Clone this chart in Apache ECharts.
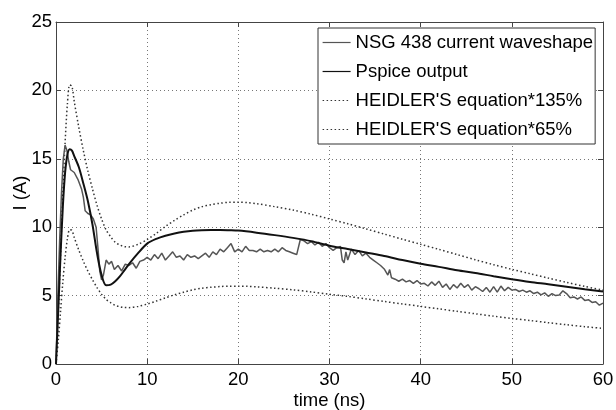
<!DOCTYPE html>
<html>
<head>
<meta charset="utf-8">
<script src="https://cdn.jsdelivr.net/npm/echarts@6/dist/echarts.min.js"></script>
<style>html,body{margin:0;padding:0;background:#fff}#c{width:616px;height:410px}</style>
</head>
<body>
<div id="c"></div>
<script>
// ---- data ----
var seriesNames = ["NSG 438 current waveshape", "Pspice output", "HEIDLER'S equation*135%", "HEIDLER'S equation*65%"];
var xTicks = [0, 10, 20, 30, 40, 50, 60];
var yTicks = [0, 5, 10, 15, 20, 25];

var tNSG = [0,0.2,0.4,0.6,0.8,1.0,1.2,1.4,1.6,2.0,2.4,2.8,3.0,3.2,3.5,3.8,4.1,4.4,4.6,4.8,5.0,5.2,5.5,5.8,6.1,6.4,6.8,7.2,7.6,8.0,8.4,8.8,9.2,9.6,10,10.4,10.8,11.2,11.6,12,12.4,12.8,13.2,13.6,14,14.4,14.8,15.2,15.6,16,16.4,16.8,17.2,17.6,18,18.4,18.8,19.2,19.6,20,20.4,20.8,21.2,21.6,22,22.4,22.8,23.2,23.6,24,24.4,24.8,25.2,25.6,26,26.4,26.8,27.2,27.6,28,28.4,28.8,29.2,29.6,30,30.4,30.8,31.2,31.4,31.6,31.8,32,32.4,32.8,33.2,33.6,34,34.4,34.8,35.2,35.6,36,36.4,36.6,36.8,37.2,37.6,38,38.4,38.8,39.2,39.6,40,40.4,40.8,41.2,41.6,42,42.4,42.8,43.2,43.6,44,44.4,44.8,45.2,45.6,46,46.4,46.8,47.2,47.6,48,48.4,48.8,49.2,49.6,50,50.4,50.8,51.2,51.6,52,52.4,52.8,53.2,53.6,54,54.4,54.8,55.2,55.6,56,56.4,56.8,57.2,57.6,58,58.4,58.8,59.2,59.6,60];
var iNSG = [0,5,9,12.5,15,16.0,15.6,14.8,14.2,14.0,13.5,12.8,12.2,11.2,11.0,10.9,10.6,10.0,8.5,6.8,6.15,6.5,7.6,7.3,7.5,6.9,7.2,6.8,7.3,7.2,7.4,7.0,7.5,7.6,7.8,7.6,8.0,7.7,8.1,7.6,7.9,8.2,7.8,7.9,7.6,8.0,7.8,7.9,7.7,7.9,8.1,7.8,8.2,8.0,8.4,8.2,8.5,8.8,8.2,8.4,8.2,8.6,8.3,8.3,8.2,8.4,8.2,8.3,8.2,8.4,8.2,8.5,8.3,8.2,8.1,8.0,9.1,9.0,8.8,8.95,8.7,8.9,8.6,8.8,8.5,8.3,8.5,8.6,7.6,7.4,8.2,7.6,8.4,8.0,8.3,7.9,8.1,7.8,7.6,7.4,7.2,6.95,6.5,6.9,6.3,6.2,6.05,6.2,6.0,6.1,5.9,6.1,5.85,5.9,5.7,6.0,5.75,6.05,5.6,5.85,5.45,5.8,5.55,5.9,5.6,5.8,5.4,5.65,5.5,5.3,5.6,5.25,5.65,5.25,5.7,5.35,5.6,5.4,5.45,5.3,5.4,5.25,5.35,5.15,5.25,5.05,5.2,4.95,5.15,5.0,5.05,5.35,5.15,4.85,4.9,4.75,4.9,4.65,4.7,4.5,4.55,4.3,4.45];

var tPspice = [0,0.25,0.5,0.75,1,1.25,1.5,1.75,2,2.5,3,3.5,4,4.5,5,5.5,6,6.5,7,7.5,8,9,10,11,12,13,14,15,16,17,18,19,20,22,24,26,28,30,32,34,36,38,40,42,44,46,48,50,52,54,56,58,60];
var iPspice = [0,4,8,11.5,14,15.3,15.7,15.6,15.2,14.4,13.2,11.9,10.2,8.1,6.5,5.75,5.8,6.05,6.4,6.85,7.3,8.1,8.8,9.15,9.38,9.54,9.66,9.74,9.78,9.8,9.8,9.78,9.75,9.6,9.42,9.22,8.98,8.65,8.4,8.15,7.9,7.6,7.33,7.1,6.85,6.65,6.42,6.2,6.0,5.83,5.65,5.47,5.3];

var tHeidler = [0,0.25,0.5,0.75,1,1.25,1.5,1.75,2,2.5,3,3.5,4,4.5,5,5.5,6,6.5,7,7.5,8,9,10,11,12,13,14,15,16,17,18,19,20,21,22,24,26,28,30,32,34,36,38,40,42,44,46,48,50,52,54,56,58,60];
var iHeidler135 = [0,3.5,8,12.5,16.2,19,20.4,20.3,19.2,17.3,15.6,14.1,12.8,11.6,10.6,9.8,9.3,8.9,8.7,8.58,8.56,8.75,9.1,9.55,10.05,10.5,10.9,11.25,11.5,11.65,11.75,11.82,11.82,11.8,11.72,11.5,11.25,10.95,10.6,10.25,9.88,9.5,9.12,8.75,8.38,8.0,7.62,7.26,6.92,6.6,6.28,5.97,5.67,5.4];
var iHeidler65 = [0,1.7,3.85,6.0,7.8,9.15,9.82,9.77,9.25,8.33,7.51,6.79,6.16,5.59,5.1,4.72,4.48,4.29,4.19,4.13,4.12,4.21,4.38,4.6,4.84,5.06,5.25,5.42,5.54,5.61,5.66,5.69,5.69,5.68,5.64,5.54,5.42,5.27,5.1,4.94,4.76,4.57,4.39,4.21,4.03,3.85,3.67,3.5,3.33,3.18,3.02,2.87,2.73,2.6];

function pairs(t, v) { return t.map(function (x, i) { return [x, v[i]]; }); }

var FONT = "'Liberation Sans', Arial, Helvetica, sans-serif";
var AX = '#444';
var chart = echarts.init(document.getElementById('c'), null, { renderer: 'canvas' });

var gridLine = { show: true, lineStyle: { color: '#777', width: 1, type: [1, 3] } };
chart.setOption({
  animation: false,
  backgroundColor: '#fff',
  textStyle: { fontFamily: FONT },
  grid: { left: 56, right: 13, top: 22, bottom: 46, containLabel: false, outerBoundsMode: 'none', show: false },
  legend: {
    show: true,
    orient: 'vertical', left: 318, top: 28,
    backgroundColor: '#fff', borderColor: '#333', borderWidth: 1, borderRadius: 0,
    padding: [5, 2, 5, 4], itemGap: 10, itemWidth: 28, itemHeight: 14,
    itemStyle: { opacity: 0 },
    lineStyle: { width: 1.2 },
    textStyle: { fontFamily: FONT, fontSize: 18.5, color: '#000' },
    data: seriesNames
  },
  xAxis: [{
    type: 'value', min: 0, max: 60, interval: 10,
    name: 'time (ns)', nameLocation: 'middle', nameGap: 27, nameMoveOverlap: false,
    nameTextStyle: { fontFamily: FONT, fontSize: 18.5, color: '#000' },
    axisLine: { show: true, onZero: false, lineStyle: { color: AX, width: 1 } },
    axisTick: { show: true, inside: true, length: 5, lineStyle: { color: AX } },
    axisLabel: { fontFamily: FONT, fontSize: 18.5, color: '#000', margin: 6,
      formatter: function (v) { return xTicks.indexOf(v) >= 0 ? String(v) : ''; } },
    splitLine: gridLine
  }, {
    type: 'value', min: 0, max: 60, interval: 10, position: 'top',
    axisLine: { show: true, onZero: false, lineStyle: { color: AX, width: 1 } },
    axisTick: { show: true, inside: true, length: 5, lineStyle: { color: AX } },
    axisLabel: { show: false }, splitLine: { show: false }
  }],
  yAxis: [{
    type: 'value', min: 0, max: 25, interval: 5,
    name: 'I (A)', nameLocation: 'middle', nameGap: 26, nameRotate: 90, nameMoveOverlap: false,
    nameTextStyle: { fontFamily: FONT, fontSize: 18.5, color: '#000' },
    axisLine: { show: true, onZero: false, lineStyle: { color: AX, width: 1 } },
    axisTick: { show: true, inside: true, length: 5, lineStyle: { color: AX } },
    axisLabel: { fontFamily: FONT, fontSize: 18.5, color: '#000', margin: 4,
      formatter: function (v) { return yTicks.indexOf(v) >= 0 ? String(v) : ''; } },
    splitLine: gridLine
  }, {
    type: 'value', min: 0, max: 25, interval: 5, position: 'right',
    axisLine: { show: true, onZero: false, lineStyle: { color: AX, width: 1 } },
    axisTick: { show: true, inside: true, length: 5, lineStyle: { color: AX } },
    axisLabel: { show: false }, splitLine: { show: false }
  }],
  series: [
    { name: seriesNames[0], type: 'line', data: pairs(tNSG, iNSG), symbol: 'none', z: 3,
      lineStyle: { color: '#555', width: 1.5 }, itemStyle: { color: '#555' } },
    { name: seriesNames[1], type: 'line', data: pairs(tPspice, iPspice), symbol: 'none', smooth: 0.3, z: 4,
      lineStyle: { color: '#111', width: 2 }, itemStyle: { color: '#111' } },
    { name: seriesNames[2], type: 'line', data: pairs(tHeidler, iHeidler135), symbol: 'none', smooth: 0.3, z: 2,
      lineStyle: { color: '#333', width: 1.5, type: [1.5, 2.5] }, itemStyle: { color: '#333' } },
    { name: seriesNames[3], type: 'line', data: pairs(tHeidler, iHeidler65), symbol: 'none', smooth: 0.3, z: 2,
      lineStyle: { color: '#333', width: 1.5, type: [1.5, 2.5] }, itemStyle: { color: '#333' } }
  ]
});
</script>
</body>
</html>
